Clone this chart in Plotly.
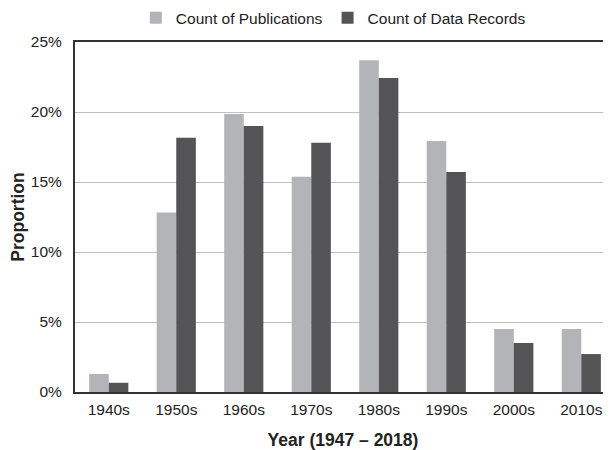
import plotly.graph_objects as go

decades = ["1940s", "1950s", "1960s", "1970s", "1980s", "1990s", "2000s", "2010s"]
publications = [1.29, 12.83, 19.86, 15.38, 23.69, 17.93, 4.50, 4.50]
data_records = [0.66, 18.16, 19.00, 17.80, 22.43, 15.71, 3.50, 2.71]
y_ticks = [0, 5, 10, 15, 20, 25]
y_tick_labels = ["0%", "5%", "10%", "15%", "20%", "25%"]

FONT = "Liberation Sans, Arial, sans-serif"

fig = go.Figure()
fig.add_trace(go.Bar(x=decades, y=publications, name="Count of Publications",
                     marker=dict(color="#b3b4b7", line=dict(width=0))))
fig.add_trace(go.Bar(x=decades, y=data_records, name="Count of Data Records",
                     marker=dict(color="#545457", line=dict(width=0))))

fig.update_layout(
    width=603, height=442,
    margin=dict(l=67, r=0, t=34, b=58, autoexpand=False),
    paper_bgcolor="white", plot_bgcolor="white",
    font=dict(family=FONT, size=15.5, color="#222222"),
    barmode="group", bargap=0.42, bargroupgap=0,
    legend=dict(orientation="h", x=0.482, xanchor="center",
                yref="container", y=0.977, yanchor="middle",
                font=dict(size=15.5), itemwidth=30, traceorder="normal",
                bgcolor="rgba(0,0,0,0)"),
    xaxis=dict(range=[-0.5, 7.44], showline=True, linecolor="#333333", linewidth=2,
               mirror=True, showgrid=False, ticks="", zeroline=False, automargin=False,
               ticklabelstandoff=2,
               title=dict(text="<b>Year (1947 – 2018)</b>", font=dict(size=17.5), standoff=19)),
    yaxis=dict(range=[0, 25], tickvals=y_ticks, ticktext=y_tick_labels,
               showline=True, linecolor="#333333", linewidth=2, ticks="",
               showgrid=True, gridcolor="#bfbfbf", gridwidth=1, zeroline=False,
               ticklabelstandoff=8, automargin=False,
               title=dict(text="<b>Proportion</b>", font=dict(size=17.5), standoff=4)),
)

fig.write_html("out.html")
